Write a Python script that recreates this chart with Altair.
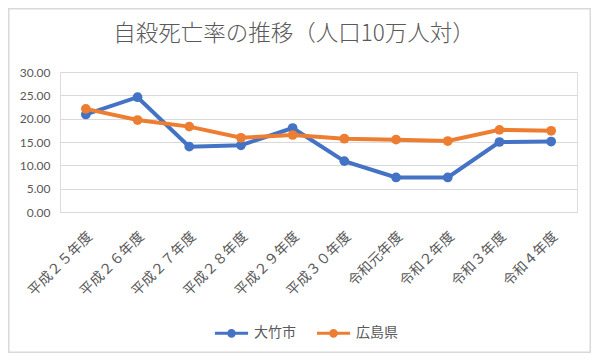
import altair as alt
import pandas as pd

years = ["平成２５年度", "平成２６年度", "平成２７年度", "平成２８年度", "平成２９年度",
         "平成３０年度", "令和元年度", "令和２年度", "令和３年度", "令和４年度"]
otake = [20.9, 24.6, 14.0, 14.3, 18.0, 10.9, 7.4, 7.4, 15.0, 15.1]
hiroshima = [22.1, 19.7, 18.3, 15.9, 16.5, 15.7, 15.5, 15.2, 17.6, 17.4]
series = ["大竹市", "広島県"]
colors = ["#4472C4", "#ED7D31"]
title_text = ["自殺死亡率の推移（人口10万人対）"]

rows = []
for i, y in enumerate(years):
    rows.append({"year": y, "series": series[0], "value": otake[i], "order": i})
    rows.append({"year": y, "series": series[1], "value": hiroshima[i], "order": i})
df = pd.DataFrame(rows)

W, H = 517, 140
JP = "Noto Sans CJK JP"
GRAY = "#595959"


def circ(r):
    return f"M{-r},0A{r},{r},0,1,1,{r},0A{r},{r},0,1,1,{-r},0"


sym = "M-1,0L1,0" + "".join(circ(r) for r in [0.04, 0.09, 0.14, 0.17])

color = alt.Color(
    "series:N",
    scale=alt.Scale(domain=series, range=colors),
    legend=alt.Legend(
        title=None,
        orient="none",
        legendX=153,
        legendY=242.5,
        direction="horizontal",
        symbolType=sym,
        symbolSize=1100,
        symbolStrokeWidth=3,
        labelFont=JP,
        labelFontSize=14,
        labelColor=GRAY,
        columnPadding=14,
        labelOffset=4,
    ),
)

x = alt.X(
    "year:N",
    sort=years,
    scale=alt.Scale(paddingInner=0, paddingOuter=0.5),
    axis=alt.Axis(
        title=None, labelAngle=-45, labelFont=JP, labelFontSize=14, labelColor=GRAY,
        domain=False, ticks=False, labelPadding=22, labelOffset=4,
        labelAlign="right", labelBaseline="middle",
    ),
)
y = alt.Y(
    "value:Q",
    scale=alt.Scale(domain=[0, 30]),
    axis=alt.Axis(
        title=None, values=[0, 5, 10, 15, 20, 25, 30], format=".2f",
        labelFont="Lato", labelFontSize=12, labelColor=GRAY,
        domain=False, ticks=False, labelPadding=10,
        gridColor="#D9D9D9", gridWidth=1,
    ),
)

base = alt.Chart(df)
lines = base.mark_line(strokeWidth=4).encode(x=x, y=y, color=color, order="order:Q")
points = base.mark_point(filled=True, size=95, opacity=1).encode(x=x, y=y, color=color)

frame = alt.Chart(pd.DataFrame({"a": [0]})).mark_rect(
    fill="transparent", stroke="#D9D9D9", strokeWidth=1.5
).encode(
    x=alt.value(-51.25), x2=alt.value(530.25), y=alt.value(-63.25), y2=alt.value(280.25)
)

title = alt.Chart(pd.DataFrame({"t": title_text})).mark_text(
    font=JP, fontSize=22.5, color=GRAY, align="center", baseline="middle", fontWeight=300
).encode(text="t:N", x=alt.value(234), y=alt.value(-38.5))

chart = alt.layer(frame, lines, points, title).properties(
    width=W,
    height=H,
    autosize=alt.AutoSizeParams(type="none"),
    padding={"left": 52, "top": 64, "right": 14, "bottom": 141},
).configure_view(stroke=None).configure(background="white")

chart.save("out.html", embed_options={"renderer": "svg", "actions": False})
